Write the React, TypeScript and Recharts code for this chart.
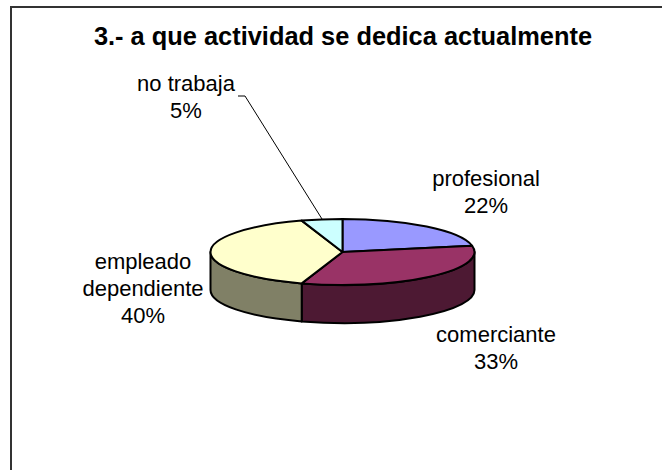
import React from 'react';
import { PieChart, Pie, Cell } from 'recharts';

const categories = ['profesional', 'comerciante', 'empleado dependiente', 'no trabaja'];
const values = [22, 33, 40, 5];
const topColors = ['#9999FF', '#993366', '#FFFFCC', '#CCFFFF'];
const wallColors = ['#4D4D80', '#4D1933', '#808066', '#668080'];

// hand placed like the original labels: [x, first line y]
const labelSpots = [
    [486, 186],
    [496, 342],
    [143, 269],
    [186, 91],
];

const data = categories.map((name, i) => ({ name, value: values[i] }));

const TILT = 0.25; // flattens the circle into the 3D looking ellipse
const DEPTH = 38;
const FONT = '"Liberation Sans", Arial, sans-serif';

const rad = (deg: number) => (deg * Math.PI) / 180;

const PieSlice3D = (props: any) => {
    const { cx, cy, outerRadius, startAngle, endAngle, index } = props;
    const rx = outerRadius;
    const ry = outerRadius * TILT;
    const pt = (deg: number) => [cx + rx * Math.cos(rad(deg)), cy - ry * Math.sin(rad(deg))];

    const [x1, y1] = pt(startAngle);
    const [x2, y2] = pt(endAngle);
    const large = Math.abs(endAngle - startAngle) > 180 ? 1 : 0;
    const top = `M${cx},${cy}L${x1},${y1}A${rx},${ry} 0 ${large} 1 ${x2},${y2}Z`;

    // the wall only shows on the front half, angles 0 to -180
    const wallStart = Math.min(startAngle, 0);
    const wallEnd = Math.max(endAngle, -180);
    let wall = null;
    if (wallStart > wallEnd) {
        const [wx1, wy1] = pt(wallStart);
        const [wx2, wy2] = pt(wallEnd);
        wall = (
            <path
                d={`M${wx1},${wy1}A${rx},${ry} 0 0 1 ${wx2},${wy2}L${wx2},${wy2 + DEPTH}A${rx},${ry} 0 0 0 ${wx1},${wy1 + DEPTH}Z`}
                fill={wallColors[index]}
                stroke="#000"
                strokeWidth={2}
                strokeLinejoin="round"
            />
        );
    }

    return (
        <g>
            {wall}
            <path d={top} fill={topColors[index]} stroke="#000" strokeWidth={2} strokeLinejoin="round" />
        </g>
    );
};

const renderLabel = (props: any) => {
    const { index, value } = props;
    const [x, y] = labelSpots[index];
    const name = categories[index];
    // only the long name wraps
    const lines = [...(name.length > 12 ? name.split(' ') : [name]), `${value}%`];
    return (
        <g>
            {index === 3 && <path d="M238,96H245L322,219" fill="none" stroke="#000" strokeWidth={1} />}
            <text x={x} textAnchor="middle" fontFamily={FONT} fontSize={22} fill="#000">
                {lines.map((line, i) => (
                    <tspan key={line} x={x} y={y + i * 27}>
                        {line}
                    </tspan>
                ))}
            </text>
        </g>
    );
};

export default function App() {
    return (
        <div style={{ position: 'absolute', left: 0, top: 0, width: 662, height: 470, background: '#fff', overflow: 'hidden' }}>
            <div style={{ position: 'absolute', left: 10, top: 6, right: -2, bottom: -2, borderLeft: '2px solid #333', borderTop: '2px solid #333' }} />
            <PieChart width={662} height={470} margin={{ top: 0, right: 0, bottom: 0, left: 0 }} style={{ position: 'absolute', left: 0, top: 0 }}>
                <text x={343} y={45} textAnchor="middle" fontFamily={FONT} fontSize={25.4} fontWeight="bold" fill="#000">
                    3.- a que actividad se dedica actualmente
                </text>
                <Pie
                    data={data}
                    dataKey="value"
                    nameKey="name"
                    cx={342.5}
                    cy={252}
                    outerRadius={132}
                    startAngle={90}
                    endAngle={-270}
                    shape={PieSlice3D}
                    label={renderLabel}
                    labelLine={false}
                    isAnimationActive={false}
                >
                    {data.map((d, i) => (
                        <Cell key={d.name} fill={topColors[i]} />
                    ))}
                </Pie>
            </PieChart>
        </div>
    );
}
